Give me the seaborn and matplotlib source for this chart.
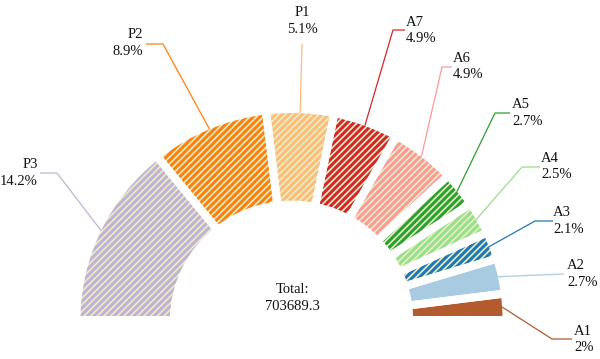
import matplotlib
matplotlib.use("Agg")
import matplotlib.pyplot as plt
import numpy as np
import seaborn as sns

# shares of the total (%), clockwise from the left
labels = ["P3", "P2", "P1", "A7", "A6", "A5", "A4", "A3", "A2", "A1"]
shares = [14.2, 8.9, 5.1, 4.9, 4.9, 2.7, 2.5, 2.1, 2.7, 2.0]
total = 703689.3

sns.set_theme(style="white")
plt.rcParams["font.family"] = ["Liberation Serif", "DejaVu Serif"]

pal = sns.color_palette("tab20")
colors = [pal[9], pal[2], pal[3], pal[6], pal[7], pal[4], pal[5], pal[0], "#a9cbe2", "#b35b2c"]
plain = {"A1", "A2"}          # drawn without stripes in the original
hatch_col = "#e6f0c6"

# layout: pixel geometry of the original picture
W, H = 600, 359
cx, cy = 291.5, 320.0         # pie centre (px)
sx, sy = 215.0, 211.0         # px per unit radius
gap_px = 8.0
inner = 0.547

def px(x, y):
    return (x - cx) / sx, (cy - y) / sy

# label blocks (x, y centre, ha) and elbow points, in px
label_pos = [(38, 173, "right"), (143, 43, "right"), (302, 21, "center"),
             (406, 30.5, "left"), (453, 66.5, "left"), (512, 113, "left"),
             (541, 166.5, "left"), (553, 221, "left"), (567, 274, "left"),
             (574, 339.5, "left")]
elbows = [[(57, 173), (40, 173)], [(163, 44), (146, 44)], [(302, 44)],
          [(393, 30), (405, 30)], [(442, 67), (452, 67)], [(495, 113), (510, 113)],
          [(522, 167), (540, 167)], [(535, 221), (553, 221)], [(564, 274)],
          [(552, 339), (572, 339)]]

fig = plt.figure(figsize=(W / 100, H / 100), dpi=100)
ax = fig.add_axes([0, 0, 1, 1])

vals = shares + [100 - sum(shares)]
kw = dict(startangle=180, counterclock=False, radius=1.0)

# base fill
wedges, _ = ax.pie(vals, colors=colors + ["none"],
                   wedgeprops=dict(width=1 - inner, linewidth=0), **kw)
wedges[-1].set_visible(False)

# stripes
plt.rcParams["hatch.linewidth"] = 1.2
hw, _ = ax.pie(vals, colors=["none"] * len(vals),
               wedgeprops=dict(width=1 - inner, linewidth=0, edgecolor=hatch_col,
                               hatch="/////"), **kw)
for w, lab in zip(hw, labels + [None]):
    if lab is None or lab in plain:
        w.set_visible(False)

# white separators between segments
gw, _ = ax.pie(vals, colors=["none"] * len(vals),
               wedgeprops=dict(width=1 - inner, linewidth=gap_px * 0.72,
                               edgecolor="white"), **kw)
gw[-1].set_visible(False)

# leader lines and labels
r_vis = 1 - gap_px / 2 / sx
for w, lab, v, col, (tx, ty, ha), pts in zip(wedges, labels, shares, colors,
                                             label_pos, elbows):
    mid = np.deg2rad((w.theta1 + w.theta2) / 2)
    xs = [r_vis * np.cos(mid)]
    ys = [r_vis * np.sin(mid)]
    for p in pts:
        x, y = px(*p)
        xs.append(x)
        ys.append(y)
    ax.plot(xs, ys, color=col, lw=0.9, solid_capstyle="butt")
    x, y = px(tx, ty)
    ax.text(x, y, f"{lab}\n{v:g}%", ha=ha, va="center", fontsize=10.5,
            linespacing=1.35, color="#111111")

x, y = px(292, 298)
ax.text(x, y, f"Total:\n{total}", ha="center", va="center", fontsize=10.5,
        linespacing=1.35, color="#111111")

ax.set_aspect("auto")
ax.set_xlim(px(0, 0)[0], px(W, 0)[0])
ax.set_ylim(px(0, H)[1], px(0, 0)[1])
ax.axis("off")

fig.savefig("out.png", dpi=100)
